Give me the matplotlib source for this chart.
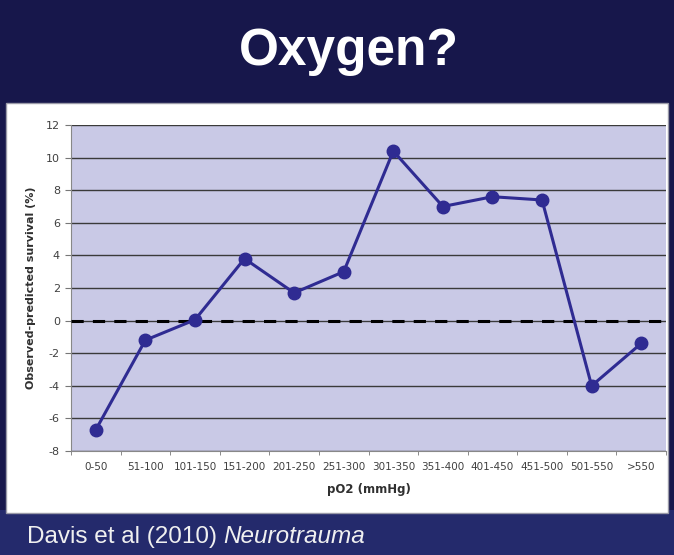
import matplotlib
matplotlib.use("Agg")
import matplotlib.pyplot as plt
from matplotlib.patches import Rectangle
from matplotlib.ticker import FixedLocator

plt.rcParams["axes.unicode_minus"] = False

# pO2 bins and observed - predicted survival (%)
categories = ["0-50", "51-100", "101-150", "151-200", "201-250", "251-300",
              "301-350", "351-400", "401-450", "451-500", "501-550", ">550"]
survival_diff = [-6.7, -1.2, 0.05, 3.8, 1.7, 3.0, 10.4, 7.0, 7.6, 7.4, -4.0, -1.4]
y_ticks = [-8, -6, -4, -2, 0, 2, 4, 6, 8, 10, 12]

W, H = 674, 555
fig = plt.figure(figsize=(W / 100, H / 100), dpi=100)
fig.patch.set_facecolor("#17174b")

# footer band and white chart panel
fig.patches.append(Rectangle((0, 0), 1, 45 / H, transform=fig.transFigure,
                             facecolor="#242a6c", edgecolor="none", zorder=0))
fig.patches.append(Rectangle((6 / W, (H - 513) / H), 662 / W, 410 / H,
                             transform=fig.transFigure, facecolor="white",
                             edgecolor="#9a9aa8", linewidth=1, zorder=1))

fig.text(349 / W, (H - 65) / H, "Oxygen?", color="white", fontsize=37,
         fontweight="bold", ha="center", va="baseline", family="Liberation Sans")
fig.text(27 / W, (H - 543) / H, "Davis et al (2010)", color="#f0f0f0",
         fontsize=17.5, ha="left", va="baseline", family="Liberation Sans")
fig.text(223 / W, (H - 543) / H, "Neurotrauma", color="#f0f0f0",
         fontsize=17.5, style="italic", ha="left", va="baseline",
         family="Liberation Sans")

ax = fig.add_axes([71 / W, (H - 451) / H, 595 / W, 326 / H])
ax.set_zorder(2)
ax.set_facecolor("#c9c9e6")

x = list(range(len(categories)))
ax.plot(x, survival_diff, color="#2f2b92", linewidth=2.2, marker="o",
        markersize=9, markerfacecolor="#2f2b92", markeredgecolor="#2f2b92",
        zorder=4)
ax.axhline(0, color="black", linewidth=2.2, linestyle=(0, (4, 3)), zorder=3)

ax.set_xlim(-0.5, len(categories) - 0.5)
ax.set_ylim(-8, 12)
ax.set_yticks(y_ticks)
ax.yaxis.grid(True, color="#3a3a3a", linewidth=1)
ax.set_axisbelow(True)

ax.set_xticks(x)
ax.set_xticklabels(categories)
ax.xaxis.set_minor_locator(FixedLocator([i + 0.5 for i in range(-1, len(categories))]))
ax.tick_params(axis="x", which="major", length=0, labelsize=7.5,
               labelcolor="#404040", pad=8)
ax.tick_params(axis="x", which="minor", length=3, color="#777777")
ax.tick_params(axis="y", length=4, color="#777777", labelsize=8,
               labelcolor="#404040", pad=4)

for side in ["top", "right"]:
    ax.spines[side].set_visible(False)
ax.spines["left"].set_color("#888888")
ax.spines["bottom"].set_color("#888888")

ax.set_xlabel("pO2 (mmHg)", fontsize=8.5, fontweight="bold", color="#303030",
              labelpad=8)
ax.set_ylabel("Observed-predicted survival (%)", fontsize=8, fontweight="bold",
              color="#303030", labelpad=7)

fig.savefig("out.png", dpi=100, facecolor=fig.get_facecolor())
